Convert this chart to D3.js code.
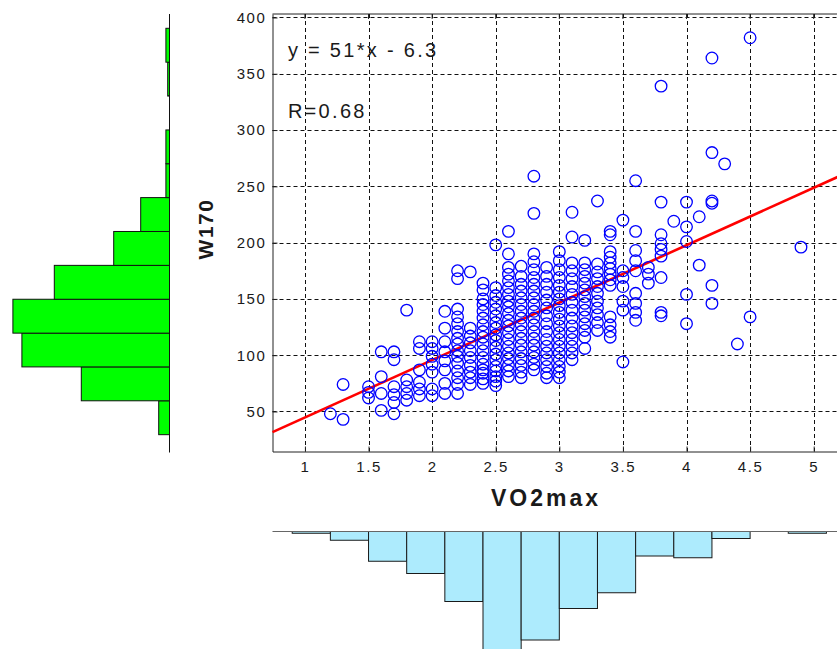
<!DOCTYPE html>
<html>
<head>
<meta charset="utf-8">
<script src="https://cdn.jsdelivr.net/npm/d3@7"></script>
<style>
  html, body { margin: 0; padding: 0; background: #fff; }
  svg { display: block; }
  text { font-family: "Liberation Sans", Arial, sans-serif; fill: #1a1a1a; }
</style>
</head>
<body>
<svg id="chart" width="837" height="649"></svg>
<script>
// VO2max (x) grouped in columns, W170 (y) values for each column
const vo2 = [1.2, 1.3, 1.5, 1.6, 1.7, 1.8, 1.9, 2.0, 2.1, 2.2, 2.3, 2.4, 2.5, 2.6, 2.7, 2.8, 2.9,
  3.0, 3.1, 3.2, 3.3, 3.4, 3.5, 3.6, 3.7, 3.8, 3.9, 4.0, 4.1, 4.2, 4.3, 4.4, 4.5, 4.9];
const w170 = [
  [48],
  [43, 74],
  [72, 67, 62],
  [103, 81, 66, 51],
  [103, 96, 72, 65, 58, 48],
  [140, 78, 72, 66, 60],
  [112, 106, 87, 76, 70, 64],
  [112, 106, 99, 92, 85, 70, 64],
  [139, 124, 112, 103, 95, 87, 75, 66],
  [175, 168, 141, 134, 128, 121, 115, 110, 104, 99, 93, 86, 80, 74, 66],
  [174, 124, 117, 111, 104, 98, 91, 85, 80, 74],
  [164, 158, 150, 145, 139, 133, 127, 121, 116, 110, 104, 98, 92, 87, 84, 79, 75],
  [198, 160, 153, 147, 141, 135, 129, 124, 118, 113, 107, 101, 96, 90, 86, 81, 77, 73],
  [210, 190, 178, 172, 166, 160, 154, 148, 143, 137, 131, 126, 120, 114, 108, 102, 97, 91, 86, 81],
  [179, 170, 163, 157, 151, 145, 139, 133, 127, 121, 115, 109, 103, 97, 91, 85, 80],
  [259, 226, 190, 183, 176, 169, 163, 157, 151, 145, 139, 133, 127, 121, 115, 109, 103, 98, 92, 87],
  [178, 170, 163, 156, 149, 142, 135, 128, 121, 114, 108, 102, 96, 90, 84, 80],
  [192, 184, 176, 169, 162, 156, 150, 144, 138, 132, 126, 120, 114, 108, 102, 96, 90, 85, 80],
  [227, 205, 182, 175, 168, 161, 154, 147, 140, 133, 126, 120, 114, 108, 102, 96],
  [202, 182, 176, 170, 164, 158, 152, 146, 140, 134, 128, 122, 116, 106],
  [237, 181, 174, 168, 161, 155, 148, 142, 136, 129, 122],
  [210, 207, 192, 187, 182, 177, 172, 167, 162, 134, 127, 121, 116],
  [220, 175, 169, 161, 148, 140, 94],
  [255, 210, 193, 184, 175, 155, 146, 138, 131],
  [178, 172, 164],
  [339, 236, 207, 199, 194, 188, 169, 138, 135],
  [219],
  [236, 214, 201, 154, 128],
  [223, 180],
  [364, 280, 237, 235, 162, 146],
  [270],
  [110],
  [382, 134],
  [196]
];

// fit shown on the chart
const slope = 51;
const intercept = -6.3;
const rValue = 0.68;

// W170 histogram (left), bottom to top
const w170Edges = [29.4, 59.5, 89.6, 119.6, 149.7, 179.8, 209.9, 240.0, 270.1, 300.1, 330.2, 360.3, 390.4];
const w170Counts = [6, 49, 82, 87, 64, 31, 16, 2, 2, 0, 1, 2];

// VO2max histogram (bottom), left to right
const vo2Edges = [0.9, 1.2, 1.5, 1.8, 2.1, 2.4, 2.7, 3.0, 3.3, 3.6, 3.9, 4.2, 4.5, 4.8, 5.1];
const vo2Counts = [1, 5, 17, 24, 40, 80, 62, 44, 35, 14, 15, 4, 0, 1];

const xTicks = [1, 1.5, 2, 2.5, 3, 3.5, 4, 4.5, 5];
const yTicks = [50, 100, 150, 200, 250, 300, 350, 400];

const svg = d3.select('#chart');

let x = d3.scaleLinear().domain([0.745, 5.364]).range([272.5, 860]);
let y = d3.scaleLinear().domain([14.45, 403.1]).range([451.5, 14]);

let [x0, x1] = x.range();
let [y0, y1] = y.range();

// grid
let grid = svg.append('g')
  .attr('stroke', '#111')
  .attr('stroke-width', 1)
  .attr('stroke-dasharray', '4,3');

grid.selectAll('.gx').data(xTicks).enter().append('line')
  .attr('x1', d => Math.round(x(d)) + 0.5).attr('x2', d => Math.round(x(d)) + 0.5)
  .attr('y1', y1).attr('y2', y0);

grid.selectAll('.gy').data(yTicks).enter().append('line')
  .attr('y1', d => Math.round(y(d)) + 0.5).attr('y2', d => Math.round(y(d)) + 0.5)
  .attr('x1', x0).attr('x2', x1);

// axes with inward ticks
let xAxis = d3.axisBottom(x).tickValues(xTicks).tickFormat(d => String(d))
  .tickSizeInner(-5).tickSizeOuter(0).tickPadding(10);
let yAxis = d3.axisLeft(y).tickValues(yTicks).tickFormat(d => String(d))
  .tickSizeInner(-5).tickSizeOuter(0).tickPadding(6);

let gx = svg.append('g').attr('transform', `translate(0,${y0})`).call(xAxis);
let gy = svg.append('g').attr('transform', `translate(${x0},0)`).call(yAxis);

[gx, gy].forEach(g => {
  g.selectAll('path, line').attr('stroke', '#222');
  g.selectAll('text')
    .attr('font-family', '"Liberation Sans", Arial, sans-serif')
    .attr('font-size', 15)
    .attr('letter-spacing', 1.6)
    .attr('fill', '#1a1a1a');
});

// top border with ticks
svg.append('line').attr('x1', x0).attr('x2', x1).attr('y1', y1).attr('y2', y1)
  .attr('stroke', '#222');
svg.append('g').selectAll('line').data(xTicks).enter().append('line')
  .attr('x1', d => x(d)).attr('x2', d => x(d))
  .attr('y1', y1).attr('y2', y1 + 5)
  .attr('stroke', '#222');

// regression line
let xd = x.domain();
svg.append('line')
  .attr('x1', x(xd[0])).attr('y1', y(slope * xd[0] + intercept))
  .attr('x2', x(xd[1])).attr('y2', y(slope * xd[1] + intercept))
  .attr('stroke', '#ff0000')
  .attr('stroke-width', 2.6);

// scatter points
let points = [];
vo2.forEach((v, i) => w170[i].forEach(w => points.push([v, w])));

svg.append('g').selectAll('circle').data(points).enter().append('circle')
  .attr('cx', d => x(d[0]))
  .attr('cy', d => y(d[1]))
  .attr('r', 5.8)
  .attr('fill', 'none')
  .attr('stroke', '#0000ff')
  .attr('stroke-width', 1.3);

// annotation
svg.append('text')
  .attr('x', x(0.866)).attr('y', y(365))
  .attr('font-size', 20).attr('letter-spacing', 2.3)
  .text(`y = ${slope}*x - ${Math.abs(intercept)}`);
svg.append('text')
  .attr('x', x(0.866)).attr('y', y(311))
  .attr('font-size', 20).attr('letter-spacing', 2.3)
  .text(`R=${rValue}`);

// axis labels
svg.append('text')
  .attr('x', 546).attr('y', 506)
  .attr('text-anchor', 'middle')
  .attr('font-size', 23).attr('font-weight', 'bold').attr('letter-spacing', 3)
  .text('VO2max');
svg.append('text')
  .attr('transform', 'translate(213,229) rotate(-90)')
  .attr('text-anchor', 'middle')
  .attr('font-size', 21).attr('font-weight', 'bold').attr('letter-spacing', 1.5)
  .text('W170');

// left histogram (W170)
let hx = d3.scaleLinear().domain([0, 100]).range([169.5, -10.5]);
let leftBins = w170Counts.map((c, i) => ({ c, lo: w170Edges[i], hi: w170Edges[i + 1] }))
  .filter(d => d.c > 0);

svg.append('g').selectAll('rect').data(leftBins).enter().append('rect')
  .attr('x', d => hx(d.c))
  .attr('width', d => hx(0) - hx(d.c))
  .attr('y', d => y(d.hi))
  .attr('height', d => y(d.lo) - y(d.hi))
  .attr('fill', '#00ff00')
  .attr('stroke', '#111')
  .attr('stroke-width', 1);

svg.append('line')
  .attr('x1', hx(0)).attr('x2', hx(0))
  .attr('y1', y1).attr('y2', y0 + 1)
  .attr('stroke', '#111');

// bottom histogram (VO2max), hanging down
let hy = d3.scaleLinear().domain([0, 100]).range([531.5, 706.5]);
let bottomBins = vo2Counts.map((c, i) => ({ c, lo: vo2Edges[i], hi: vo2Edges[i + 1] }))
  .filter(d => d.c > 0);

svg.append('g').selectAll('rect').data(bottomBins).enter().append('rect')
  .attr('x', d => x(d.lo))
  .attr('width', d => x(d.hi) - x(d.lo))
  .attr('y', hy(0))
  .attr('height', d => hy(d.c) - hy(0))
  .attr('fill', '#adebfd')
  .attr('stroke', '#1a1a1a')
  .attr('stroke-width', 1);

svg.append('line')
  .attr('x1', x0).attr('x2', x1)
  .attr('y1', hy(0)).attr('y2', hy(0))
  .attr('stroke', '#666');
</script>
</body>
</html>
